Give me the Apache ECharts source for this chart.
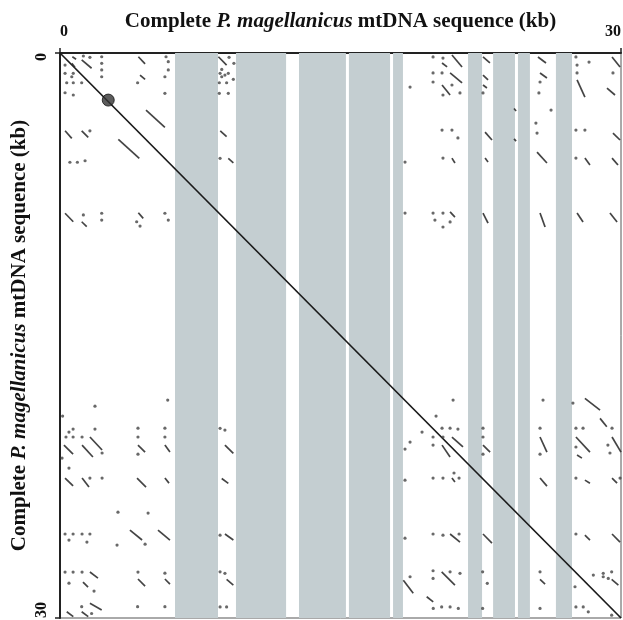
<!DOCTYPE html>
<html>
<head>
<meta charset="utf-8">
<script src="https://cdn.jsdelivr.net/npm/echarts@6/dist/echarts.min.js"></script>
<style>
  html, body { margin: 0; padding: 0; background: #fff; }
  #chart { width: 623px; height: 620px; }
</style>
</head>
<body>
<div id="chart"></div>
<script>
// sequence positions in kb
const axisMin = 0
const axisMax = 30

// shaded regions along the x sequence [start, end]
const bands = [
  [6.15, 8.45], [9.41, 12.09], [12.78, 15.29], [15.45, 17.65], [17.81, 18.34],
  [21.82, 22.57], [23.16, 24.33], [24.49, 25.13], [26.52, 27.38]
]

// self-identity line
const diagonal = [[0, 0], [30, 30]]

// dark blob on the diagonal
const blob = [[2.58, 2.5]]

// single dots, rows 0-10 kb
const topDots = [
  [0.27, 0.64], [0.71, 1.08], [0.63, 1.26], [0.27, 1.08], [0.36, 1.58], [0.71, 1.58], [1.16, 1.58], [0.27, 2.11], [0.71, 2.23],
  [1.25, 0.16], [1.60, 0.23], [2.23, 0.20], [2.23, 0.55], [2.23, 0.90], [2.23, 1.26],
  [5.67, 0.20], [5.79, 0.46], [5.79, 0.90], [5.61, 1.26], [5.61, 2.14], [4.15, 1.58],
  [1.60, 4.13], [0.53, 5.80], [0.93, 5.80], [1.34, 5.72],
  [1.25, 8.60], [2.23, 8.51], [2.23, 8.87], [4.10, 8.96], [4.28, 9.19], [5.61, 8.51], [5.79, 8.87],
  [9.04, 0.23], [9.30, 0.55], [8.65, 0.87], [8.56, 1.08], [8.65, 1.26], [8.82, 1.17], [9.00, 1.08],
  [8.52, 1.58], [8.91, 1.58], [9.27, 1.40], [8.52, 2.14], [9.00, 2.14], [8.56, 5.59],
  [18.72, 1.81],
  [19.95, 0.21], [20.48, 0.27], [19.95, 1.06], [20.43, 1.06], [19.95, 1.54], [20.96, 1.70], [21.39, 2.12], [20.48, 2.23],
  [22.62, 2.12], [25.67, 1.54], [25.61, 2.12],
  [27.59, 0.21], [28.29, 0.48], [27.65, 0.64], [27.65, 1.06], [29.57, 1.06],
  [26.26, 3.03], [25.45, 3.72],
  [20.43, 4.09], [20.96, 4.09], [21.28, 4.51], [25.51, 4.25], [27.59, 4.09], [28.07, 4.09],
  [20.48, 5.58], [27.59, 5.58], [18.45, 5.79],
  [19.95, 8.50], [20.48, 8.50], [20.05, 8.87], [20.86, 8.97], [20.48, 9.24], [18.45, 8.50]
]

// short diagonal runs [x1, y1, x2, y2], rows 0-10 kb
const topDashes = [
  [0.66, 0.20, 0.86, 0.33], [1.16, 0.37, 1.69, 0.81], [0.63, 0.55, 0.80, 0.76],
  [4.19, 0.20, 4.55, 0.58], [4.28, 1.17, 4.55, 1.40],
  [4.60, 3.03, 5.61, 3.95], [3.12, 4.58, 4.24, 5.59],
  [0.27, 4.13, 0.63, 4.53], [1.16, 4.13, 1.51, 4.48],
  [0.27, 8.51, 0.71, 8.96], [1.16, 8.96, 1.43, 9.22], [4.19, 8.48, 4.45, 8.78],
  [8.47, 0.20, 8.91, 0.64], [8.57, 4.13, 8.91, 4.44], [9.00, 5.59, 9.27, 5.83],
  [20.43, 0.53, 20.70, 0.74], [20.96, 0.11, 21.50, 0.74], [20.86, 1.06, 21.50, 1.59], [20.43, 1.70, 20.86, 2.23],
  [22.62, 0.21, 22.99, 0.53], [22.62, 1.17, 22.89, 1.43], [22.62, 1.70, 22.83, 1.86],
  [25.56, 0.21, 25.99, 0.53], [25.67, 1.06, 26.04, 1.33],
  [27.65, 1.43, 28.07, 2.34],
  [29.52, 0.21, 29.95, 0.74], [29.25, 1.86, 29.68, 2.23],
  [24.28, 2.95, 24.39, 3.08], [24.28, 4.56, 24.39, 4.68],
  [22.73, 4.20, 23.10, 4.62], [29.57, 4.25, 29.95, 4.62],
  [25.51, 5.26, 26.04, 5.84], [20.96, 5.58, 21.12, 5.84], [22.73, 5.58, 22.89, 5.79], [28.07, 5.58, 28.34, 5.95], [29.52, 5.58, 29.84, 5.95],
  [20.86, 8.44, 21.12, 8.71], [22.62, 8.50, 22.89, 9.03], [25.67, 8.50, 25.94, 9.24], [27.65, 8.50, 27.97, 8.97], [29.41, 8.50, 29.79, 8.97]
]

// single dots, rows 18-30 kb
const bottomDots = [
  [21.02, 18.43], [25.83, 18.43], [27.43, 18.59], [20.11, 19.28], [19.36, 20.13], [18.72, 20.66], [18.45, 21.03],
  [20.43, 19.92], [20.86, 19.92], [21.28, 19.97], [19.95, 20.39], [20.48, 20.39], [19.95, 20.82],
  [22.62, 19.92], [22.62, 20.39], [22.62, 21.30], [25.67, 19.92], [25.67, 21.30],
  [27.59, 19.92], [27.97, 19.92], [27.59, 20.92], [29.52, 19.92], [29.30, 20.82], [29.41, 21.24],
  [19.95, 22.57], [20.48, 22.57], [21.34, 22.57], [21.07, 22.30], [27.59, 22.57], [29.95, 22.57], [18.45, 22.68],
  [19.95, 25.54], [20.48, 25.60], [21.34, 25.54], [27.59, 25.54], [18.45, 25.76],
  [19.95, 27.49], [19.95, 27.90], [20.86, 27.55], [21.39, 27.63], [22.60, 27.55], [22.85, 28.16], [25.67, 27.55],
  [29.05, 27.63], [29.50, 27.55], [29.05, 27.81], [18.72, 27.81],
  [19.96, 29.49], [20.41, 29.41], [20.86, 29.41], [21.30, 29.49], [22.60, 29.49], [25.67, 29.49], [27.59, 29.41], [27.98, 29.41],
  [28.52, 27.72], [29.32, 27.90], [27.54, 28.34], [28.25, 29.67], [29.50, 29.85],
  [1.87, 18.75], [5.76, 18.43], [0.14, 19.28], [0.48, 20.13], [0.70, 19.97], [0.32, 20.39], [0.70, 20.39], [1.18, 20.39],
  [1.87, 19.97], [2.25, 21.24], [0.11, 21.51], [4.17, 19.92], [4.17, 20.39], [4.17, 21.30], [5.61, 20.39], [5.61, 19.92],
  [0.48, 22.04], [2.25, 22.57], [1.60, 22.57], [3.10, 24.38], [4.71, 24.43],
  [0.27, 25.54], [0.70, 25.54], [1.18, 25.54], [1.60, 25.54], [0.48, 25.86], [1.44, 25.97], [3.05, 26.13], [4.55, 26.08],
  [0.27, 27.56], [0.70, 27.56], [1.18, 27.56], [0.48, 28.15], [1.82, 28.57], [4.17, 27.56], [5.61, 27.62],
  [1.16, 29.40], [4.15, 29.40], [5.61, 29.40], [1.69, 29.76],
  [8.56, 19.93], [8.82, 20.02], [8.56, 25.60], [8.56, 27.55], [8.82, 27.63], [8.56, 29.41], [8.91, 29.41]
]

// short diagonal runs, rows 18-30 kb
const bottomDashes = [
  [28.07, 18.34, 28.88, 18.96], [28.88, 19.40, 29.24, 19.85],
  [20.96, 20.39, 21.55, 20.92], [20.43, 20.82, 20.86, 21.45],
  [22.62, 20.82, 23.00, 21.19], [25.67, 20.39, 26.04, 21.19], [27.59, 20.39, 28.34, 21.19], [27.65, 21.35, 27.91, 21.51], [29.52, 20.39, 30.00, 21.19],
  [20.96, 22.57, 21.12, 22.78], [25.67, 22.57, 26.04, 23.00], [28.07, 22.68, 28.34, 22.84], [29.52, 22.57, 29.79, 22.84],
  [20.86, 25.54, 21.39, 25.97], [22.62, 25.54, 23.10, 26.02], [28.07, 25.60, 28.34, 25.86], [29.52, 25.54, 29.95, 25.97],
  [20.41, 27.55, 21.12, 28.25], [25.67, 27.95, 25.94, 28.20], [29.50, 27.95, 29.86, 28.25], [18.36, 27.99, 18.89, 28.69], [19.61, 28.87, 19.96, 29.14],
  [1.60, 20.39, 2.25, 21.08], [0.21, 20.82, 0.70, 21.30], [1.18, 20.82, 1.76, 21.45], [4.17, 20.82, 4.55, 21.19], [5.61, 20.82, 5.88, 21.19],
  [0.27, 22.57, 0.70, 22.99], [1.18, 22.57, 1.55, 23.05], [4.12, 22.57, 4.60, 23.05], [5.61, 22.57, 5.83, 22.84],
  [3.74, 25.33, 4.39, 25.86], [5.24, 25.33, 5.88, 25.86],
  [1.60, 27.56, 2.03, 27.88], [1.23, 28.09, 1.50, 28.36], [4.17, 27.93, 4.55, 28.31], [5.61, 27.93, 5.88, 28.20],
  [0.36, 29.67, 0.71, 29.93], [1.16, 29.67, 1.51, 29.93], [1.60, 29.22, 2.23, 29.58],
  [8.82, 20.82, 9.27, 21.26], [8.65, 22.59, 9.00, 22.85], [8.82, 25.54, 9.27, 25.86], [8.91, 27.95, 9.27, 28.25]
]

const serif = '"Liberation Serif", "DejaVu Serif", serif'
const ink = '#303030'

const nameStyle = {
  rich: {
    n: { fontFamily: serif, fontWeight: 'bold', fontSize: 21, color: '#111' },
    i: { fontFamily: serif, fontWeight: 'bold', fontStyle: 'italic', fontSize: 21, color: '#111' }
  }
}
const axisName = '{n|Complete }{i|P. magellanicus}{n| mtDNA sequence (kb)}'

const toLines = arr => arr.map(d => ({ coords: [[d[0], d[1]], [d[2], d[3]]] }))

const chart = echarts.init(document.getElementById('chart'))

chart.setOption({
  animation: false,
  grid: {
    left: 60, right: 2, top: 53, bottom: 2,
    outerBoundsMode: 'none',
    show: true, borderColor: '#555', borderWidth: 1, backgroundColor: '#fff'
  },
  xAxis: {
    type: 'value',
    position: 'top',
    min: axisMin, max: axisMax, interval: 30,
    name: axisName,
    nameLocation: 'middle',
    nameGap: 21,
    nameMoveOverlap: false,
    nameTextStyle: nameStyle,
    axisLine: { lineStyle: { color: '#222', width: 2 } },
    axisTick: { show: true, length: 5, lineStyle: { color: '#222', width: 1.5 } },
    axisLabel: {
      margin: 13, fontFamily: serif, fontWeight: 'bold', fontSize: 16, color: '#111',
      alignMinLabel: 'left', alignMaxLabel: 'right'
    },
    splitLine: { show: false }
  },
  yAxis: {
    type: 'value',
    inverse: true,
    min: axisMin, max: axisMax, interval: 30,
    name: axisName,
    nameLocation: 'middle',
    nameGap: 30,
    nameMoveOverlap: false,
    nameTextStyle: nameStyle,
    axisLine: { lineStyle: { color: '#222', width: 2 } },
    axisTick: { show: true, length: 5, lineStyle: { color: '#222', width: 1.5 } },
    axisLabel: {
      margin: 10, rotate: 90, fontFamily: serif, fontWeight: 'bold', fontSize: 16, color: '#111',
      alignMinLabel: 'right', alignMaxLabel: 'left'
    },
    splitLine: { show: false }
  },
  series: [
    {
      type: 'line',
      data: [],
      z: 1,
      silent: true,
      markArea: {
        silent: true,
        itemStyle: { color: '#c4ced1', opacity: 1 },
        data: bands.map(b => [{ xAxis: b[0] }, { xAxis: b[1] }])
      }
    },
    {
      type: 'line',
      data: diagonal,
      z: 3,
      symbol: 'none',
      lineStyle: { color: '#1a1a1a', width: 1.7 }
    },
    {
      type: 'lines',
      coordinateSystem: 'cartesian2d',
      z: 4,
      data: toLines(topDashes.concat(bottomDashes)),
      lineStyle: { color: ink, width: 1.7, opacity: 0.9 }
    },
    {
      type: 'scatter',
      z: 4,
      data: topDots.concat(bottomDots),
      symbolSize: 3.2,
      itemStyle: { color: '#444' }
    },
    {
      type: 'scatter',
      z: 5,
      data: blob,
      symbolSize: 12,
      itemStyle: { color: '#333', borderColor: '#111', borderWidth: 1 }
    }
  ]
})

window.addEventListener('resize', () => chart.resize())
</script>
</body>
</html>
